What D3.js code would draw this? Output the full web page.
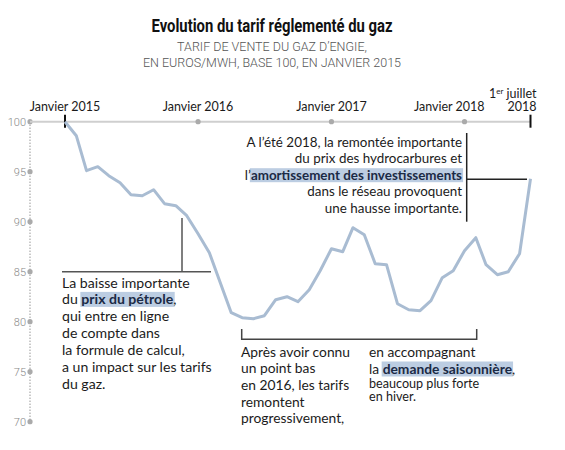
<!DOCTYPE html>
<html lang="fr">
<head>
<meta charset="UTF-8">
<title>Evolution du tarif réglementé du gaz</title>
<script src="https://d3js.org/d3.v7.min.js"></script>
<style>
  body { margin: 0; background: #fff; }
  svg { display: block; }
  .note { font-family: Lato, "Noto Sans", sans-serif; fill: #1b1b1b; }
</style>
</head>
<body>
<svg id="chart"></svg>
<script>
// tarif mensuel, base 100 en janvier 2015
var startMonth = new Date(2015, 0, 1);
var endMonth = new Date(2018, 6, 1);
var tarif = [100, 98.6, 95.1, 95.5, 94.6, 93.9, 92.7, 92.6, 93.2, 91.8, 91.6, 90.6,
             88.8, 86.9, 84.0, 80.9, 80.4, 80.3, 80.6, 82.2, 82.5, 82.0, 83.2, 85.1,
             87.3, 87.0, 89.4, 88.7, 85.8, 85.7, 81.8, 81.2, 81.1, 82.1, 84.4, 85.1,
             87.1, 88.4, 85.7, 84.7, 85.0, 86.8, 94.3];
var yTicks = [100, 95, 90, 85, 80, 75, 70];
var yearDates = [new Date(2015, 0, 1), new Date(2016, 0, 1), new Date(2017, 0, 1), new Date(2018, 0, 1)];
var yearLabels = ["Janvier 2015", "Janvier 2016", "Janvier 2017", "Janvier 2018"];

var months = d3.timeMonth.range(startMonth, d3.timeMonth.offset(endMonth, 1));
var data = months.map(function(d, i) { return { date: d, value: tarif[i] }; });

var width = 565, height = 450;
var svg = d3.select("#chart").attr("width", width).attr("height", height);

var x = d3.scaleTime().domain([startMonth, endMonth]).range([65, 530.5]);
var y = d3.scaleLinear().domain([70, 100]).range([421.7, 121.7]);
var axisX = 30;

// titre
svg.append("text")
   .attr("x", 272).attr("y", 31.5)
   .attr("text-anchor", "middle")
   .attr("textLength", 241).attr("lengthAdjust", "spacingAndGlyphs")
   .style("font-family", "Roboto, sans-serif")
   .style("font-weight", "bold").style("font-size", "18px").style("fill", "#111")
   .text("Evolution du tarif réglementé du gaz");

var sub = ["TARIF DE VENTE DU GAZ D\u2019ENGIE,", "EN EUROS/MWH, BASE 100, EN JANVIER 2015"];
svg.selectAll(".sub").data(sub).enter().append("text")
   .attr("class", "sub")
   .attr("x", 272).attr("y", function(d, i) { return 50.5 + i * 16.5; })
   .attr("text-anchor", "middle")
   .style("font-family", "Roboto, sans-serif").style("font-weight", 300)
   .style("font-size", "12.5px").style("fill", "#555")
   .text(function(d) { return d; });

// axe vertical pointillé
svg.append("line")
   .attr("x1", axisX).attr("x2", axisX)
   .attr("y1", y(100)).attr("y2", y(70))
   .attr("stroke", "#666").attr("stroke-width", 1).attr("stroke-dasharray", "1,2");

svg.selectAll(".ydot").data(yTicks).enter().append("circle")
   .attr("cx", axisX).attr("cy", function(d) { return y(d); }).attr("r", 2.6)
   .attr("fill", "#aaa");

svg.selectAll(".ylab").data(yTicks).enter().append("text")
   .attr("x", axisX - 4).attr("y", function(d) { return y(d) + 4; })
   .attr("text-anchor", "end")
   .style("font-family", "Roboto, sans-serif").style("font-weight", 300)
   .style("font-size", "11px").style("fill", "#888")
   .text(function(d) { return d; });

// frise chronologique
svg.append("line")
   .attr("x1", axisX).attr("x2", x(endMonth))
   .attr("y1", y(100)).attr("y2", y(100))
   .attr("stroke", "#cfcfcf").attr("stroke-width", 2);

svg.selectAll(".tdot").data(yearDates.slice(1)).enter().append("circle")
   .attr("cx", function(d) { return x(d); }).attr("cy", y(100)).attr("r", 2.6)
   .attr("fill", "#aaa");

[startMonth, endMonth].forEach(function(d) {
  svg.append("line")
     .attr("x1", x(d)).attr("x2", x(d))
     .attr("y1", y(100) - 7).attr("y2", y(100) + 6)
     .attr("stroke", "#111").attr("stroke-width", 2);
});

svg.selectAll(".ylabel").data(yearDates).enter().append("text")
   .attr("class", "note")
   .attr("x", function(d, i) { return i === 3 ? x(d) + 20 : x(d); })
   .attr("y", 111)
   .attr("text-anchor", function(d, i) { return i === 3 ? "end" : "middle"; })
   .style("font-size", "12.5px")
   .text(function(d, i) { return yearLabels[i]; });

var jul = svg.append("text").attr("class", "note")
   .attr("x", x(endMonth) + 6).attr("y", 98.3)
   .attr("text-anchor", "end").style("font-size", "12.5px");
jul.append("tspan").text("1");
jul.append("tspan").attr("dy", -4).style("font-size", "8px").text("er");
jul.append("tspan").attr("dy", 4).text(" juillet");
svg.append("text").attr("class", "note")
   .attr("x", x(endMonth) + 6).attr("y", 111)
   .attr("text-anchor", "end").style("font-size", "12.5px").text("2018");

// courbe
var line = d3.line()
   .x(function(d) { return x(d.date); })
   .y(function(d) { return y(d.value); });

svg.append("path")
   .datum(data)
   .attr("d", line)
   .attr("fill", "none")
   .attr("stroke", "#a9bcd2")
   .attr("stroke-width", 3)
   .attr("stroke-linejoin", "round");

// annotations
function writeLine(g, px, py, parts, size, anchor) {
  var t = g.append("text").attr("class", "note")
     .attr("x", px).attr("y", py)
     .attr("text-anchor", anchor || "start")
     .style("font-size", size + "px");
  parts.forEach(function(p) {
    var s = t.append("tspan").text(p.t);
    if (p.b) s.style("font-weight", "bold").style("fill", "#1b2a45").classed("hl", true);
  });
  t.selectAll("tspan.hl").each(function() {
    var bb = this.getBBox();
    g.insert("rect", "text")
     .attr("x", bb.x - 1).attr("y", bb.y + 1.5)
     .attr("width", bb.width + 2).attr("height", bb.height - 2)
     .attr("fill", "#bccde2");
  });
}

var stroke = "#444";
var g1 = svg.append("g");
g1.append("line").attr("x1", 62).attr("x2", 211).attr("y1", 271.7).attr("y2", 271.7)
  .attr("stroke", "#555").attr("stroke-width", 1.5);
g1.append("line").attr("x1", 182).attr("x2", 182).attr("y1", 218).attr("y2", 271.7)
  .attr("stroke", "#555").attr("stroke-width", 1.5);
var note1 = [
  [{t: "La baisse importante"}],
  [{t: "du "}, {t: "prix du pétrole", b: true}, {t: ","}],
  [{t: "qui entre en ligne"}],
  [{t: "de compte dans"}],
  [{t: "la formule de calcul,"}],
  [{t: "a un impact sur les tarifs"}],
  [{t: "du gaz."}]
];
note1.forEach(function(l, i) { writeLine(g1, 62, 287.5 + i * 16.9, l, 14.1); });

var g2 = svg.append("g");
g2.append("path")
  .attr("d", "M241.7,329V339.3H476.7V329")
  .attr("fill", "none").attr("stroke", stroke).attr("stroke-width", 1.5);
var note2a = ["Après avoir connu", "un point bas", "en 2016, les tarifs", "remontent", "progressivement,"];
note2a.forEach(function(l, i) { writeLine(g2, 241, 356.7 + i * 16.6, [{t: l}], 13.8); });
writeLine(g2, 369, 356.7, [{t: "en accompagnant"}], 13.8);
writeLine(g2, 369, 374, [{t: "la "}, {t: "demande saisonnière", b: true}, {t: ","}], 13.8);
writeLine(g2, 369, 387.7, [{t: "beaucoup plus forte"}], 12.6);
writeLine(g2, 369, 400.9, [{t: "en hiver."}], 12.6);

var g3 = svg.append("g");
g3.append("line").attr("x1", 466.7).attr("x2", 466.7).attr("y1", 133).attr("y2", 221.7)
  .attr("stroke", "#222").attr("stroke-width", 1.5);
g3.append("line").attr("x1", 466.7).attr("x2", 527).attr("y1", 179.3).attr("y2", 179.3)
  .attr("stroke", "#222").attr("stroke-width", 1.5);
var note3 = [
  [{t: "A l\u2019été 2018, la remontée importante"}],
  [{t: "du prix des hydrocarbures et"}],
  [{t: "l\u2019"}, {t: "amortissement des investissements", b: true}],
  [{t: "dans le réseau provoquent"}],
  [{t: "une hausse importante."}]
];
note3.forEach(function(l, i) { writeLine(g3, 462, 146.7 + i * 16.5, l, 13.4, "end"); });
</script>
</body>
</html>
